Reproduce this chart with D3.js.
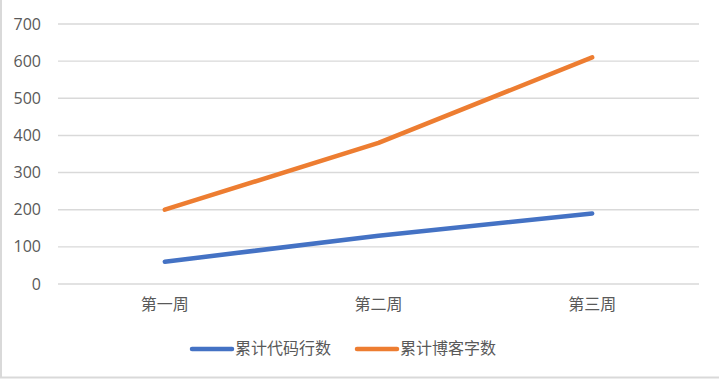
<!DOCTYPE html>
<html><head><meta charset="utf-8">
<script src="https://cdn.jsdelivr.net/npm/d3@7"></script>
<style>
html,body{margin:0;padding:0;background:#fff;}
svg{display:block;}
text{font-family:"Noto Sans CJK SC","Noto Sans",sans-serif;fill:#595959;}
</style></head><body>
<script>
const categories = ["第一周","第二周","第三周"];
const seriesNames = ["累计代码行数","累计博客字数"];
const codeLines = [60, 130, 190];
const blogWords = [200, 380, 610];
const yTicks = [0,100,200,300,400,500,600,700];
const colors = ["#4472C4","#ED7D31"];

(function(){
const W = 719, H = 379;
const svg = d3.select("body").append("svg").attr("width", W).attr("height", H);
svg.append("rect").attr("x",0).attr("y",0).attr("width",W).attr("height",H).attr("fill","#fff");
// chart area border (left & bottom visible)
svg.append("line").attr("x1",1).attr("x2",1).attr("y1",0).attr("y2",378).attr("stroke","#D9D9D9").attr("stroke-width",2);
svg.append("line").attr("x1",0).attr("x2",W).attr("y1",377.5).attr("y2",377.5).attr("stroke","#D9D9D9").attr("stroke-width",2);

const pL = 58, pR = 699, pT = 24, pB = 284;
const x = d3.scaleBand().domain(categories).range([pL, pR]);
const y = d3.scaleLinear().domain([0, 700]).range([pB, pT]);

// gridlines
svg.append("g").selectAll("line").data(yTicks).join("line")
  .attr("x1", pL).attr("x2", pR)
  .attr("y1", d => y(d)).attr("y2", d => y(d))
  .attr("stroke", "#D9D9D9").attr("stroke-width", 1.4);

// y axis labels
const yAxis = d3.axisLeft(y).tickValues(yTicks).tickSize(0).tickPadding(0);
const gy = svg.append("g").attr("transform", `translate(41,0)`).call(yAxis);
gy.select(".domain").remove();
gy.selectAll("text").attr("font-size", 16).attr("fill","#595959")
  .style("font-family", '"Open Sans","Noto Sans CJK SC",sans-serif');

// x axis labels
const xAxis = d3.axisBottom(x).tickSize(0).tickPadding(0);
const gx = svg.append("g").attr("transform", `translate(0,${pB + 15})`).call(xAxis);
gx.select(".domain").remove();
gx.selectAll("text").attr("font-size", 16).attr("fill","#595959")
  .style("font-family", '"Noto Sans CJK SC","Noto Sans",sans-serif');

// lines
const line = d3.line().x((d,i) => x(categories[i]) + x.bandwidth()/2).y(d => y(d));
[codeLines, blogWords].forEach((s, k) => {
  svg.append("path").datum(s).attr("d", line)
    .attr("fill","none").attr("stroke", colors[k]).attr("stroke-width", 4.5)
    .attr("stroke-linecap","round").attr("stroke-linejoin","round");
});

// legend
const legendItems = [{x0:192, tx:235}, {x0:357, tx:400}];
seriesNames.forEach((n, k) => {
  const g = svg.append("g");
  g.append("line").attr("x1", legendItems[k].x0).attr("x2", legendItems[k].x0 + 40)
    .attr("y1", 349).attr("y2", 349).attr("stroke", colors[k]).attr("stroke-width", 4.5)
    .attr("stroke-linecap","round");
  g.append("text").attr("x", legendItems[k].tx).attr("y", 348).attr("dy","0.35em")
    .attr("font-size", 16).text(n);
});
})();
</script>
</body></html>
